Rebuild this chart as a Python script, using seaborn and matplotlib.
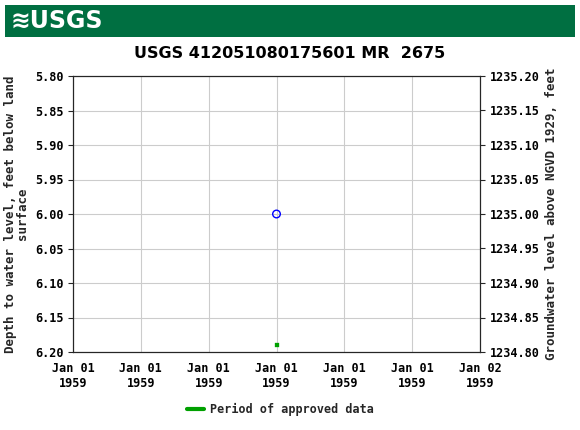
import matplotlib
matplotlib.use("Agg")
import matplotlib.pyplot as plt
import seaborn as sns
import pandas as pd
import numpy as np

times = pd.to_datetime(["1959-01-01 12:00"])
depth = [6.00]
approved_times = pd.to_datetime(["1959-01-01 12:00"])
approved_depth = [6.19]
tick_labels = ["Jan 01\n1959"] * 6 + ["Jan 02\n1959"]
title = "USGS 412051080175601 MR  2675"

sns.set_style("white")
fig = plt.figure(figsize=(5.8, 4.3), dpi=100)
ax = fig.add_axes([73/580, 1-352/430, (480-73)/580, (352-76)/430])

df = pd.DataFrame({"t": times, "d": depth})
sns.scatterplot(data=df, x="t", y="d", ax=ax, marker="o", s=30,
                facecolors="none", edgecolor="#0000ff", linewidth=1, zorder=3)
dfa = pd.DataFrame({"t": approved_times, "d": approved_depth})
sns.scatterplot(data=dfa, x="t", y="d", ax=ax, marker="s", s=8,
                color="#00a000", edgecolor="#00a000", zorder=3)

start = pd.Timestamp("1959-01-01 00:00")
ticks = [start + pd.Timedelta(hours=4*i) for i in range(7)]
ax.set_xlim(ticks[0], ticks[-1])
ax.set_xticks(ticks)
ax.set_xticklabels(tick_labels)
ax.set_ylim(6.20, 5.80)
yt = np.round(np.arange(5.80, 6.201, 0.05), 2)
ax.set_yticks(yt)
ax.set_yticklabels([f"{v:.2f}" for v in yt])
ax.grid(True, color="#cccccc", linewidth=0.8)
ax.set_xlabel("")
ax.set_ylabel("Depth to water level, feet below land\nsurface", family="DejaVu Sans Mono", fontsize=9, fontweight="bold", linespacing=0.9)
fp = matplotlib.font_manager.FontProperties(family="DejaVu Sans Mono", size=8.5, weight="bold")
for lab in ax.get_xticklabels() + ax.get_yticklabels():
    lab.set_fontproperties(fp)
    lab.set_color("black")
for s in ax.spines.values():
    s.set_color("#000000")
    s.set_linewidth(0.8)

ax2 = ax.twinx()
ax2.set_ylim(1234.80, 1235.20)
yt2 = np.round(np.arange(1234.80, 1235.201, 0.05), 2)
ax2.set_yticks(yt2)
ax2.set_yticklabels([f"{v:.2f}" for v in yt2], fontproperties=fp, color="black")
ax2.set_ylabel("Groundwater level above NGVD 1929, feet", family="DejaVu Sans Mono", fontsize=9, fontweight="bold")

fig.text(0.5, 1-53/430, title, ha="center", va="center", fontsize=11.5, fontweight="bold", color="black")

# header bar
hdr = fig.add_axes([5/580, 1-37/430, 570/580, 32/430])
hdr.set_facecolor("#006f41")
hdr.set_xticks([]); hdr.set_yticks([])
for s in hdr.spines.values():
    s.set_visible(False)
hdr.text(0.01, 0.5, "≋USGS", color="white", fontsize=17, fontweight="bold", va="center", ha="left", transform=hdr.transAxes)

# legend
fig.lines.append(matplotlib.lines.Line2D([187/580, 204/580], [1-409/430]*2, color="#00a000", linewidth=3, transform=fig.transFigure))
fig.text(210/580, 1-409/430, "Period of approved data", family="DejaVu Sans Mono", fontsize=8.5, fontweight="bold", va="center")

fig.savefig("out.png", dpi=100)
